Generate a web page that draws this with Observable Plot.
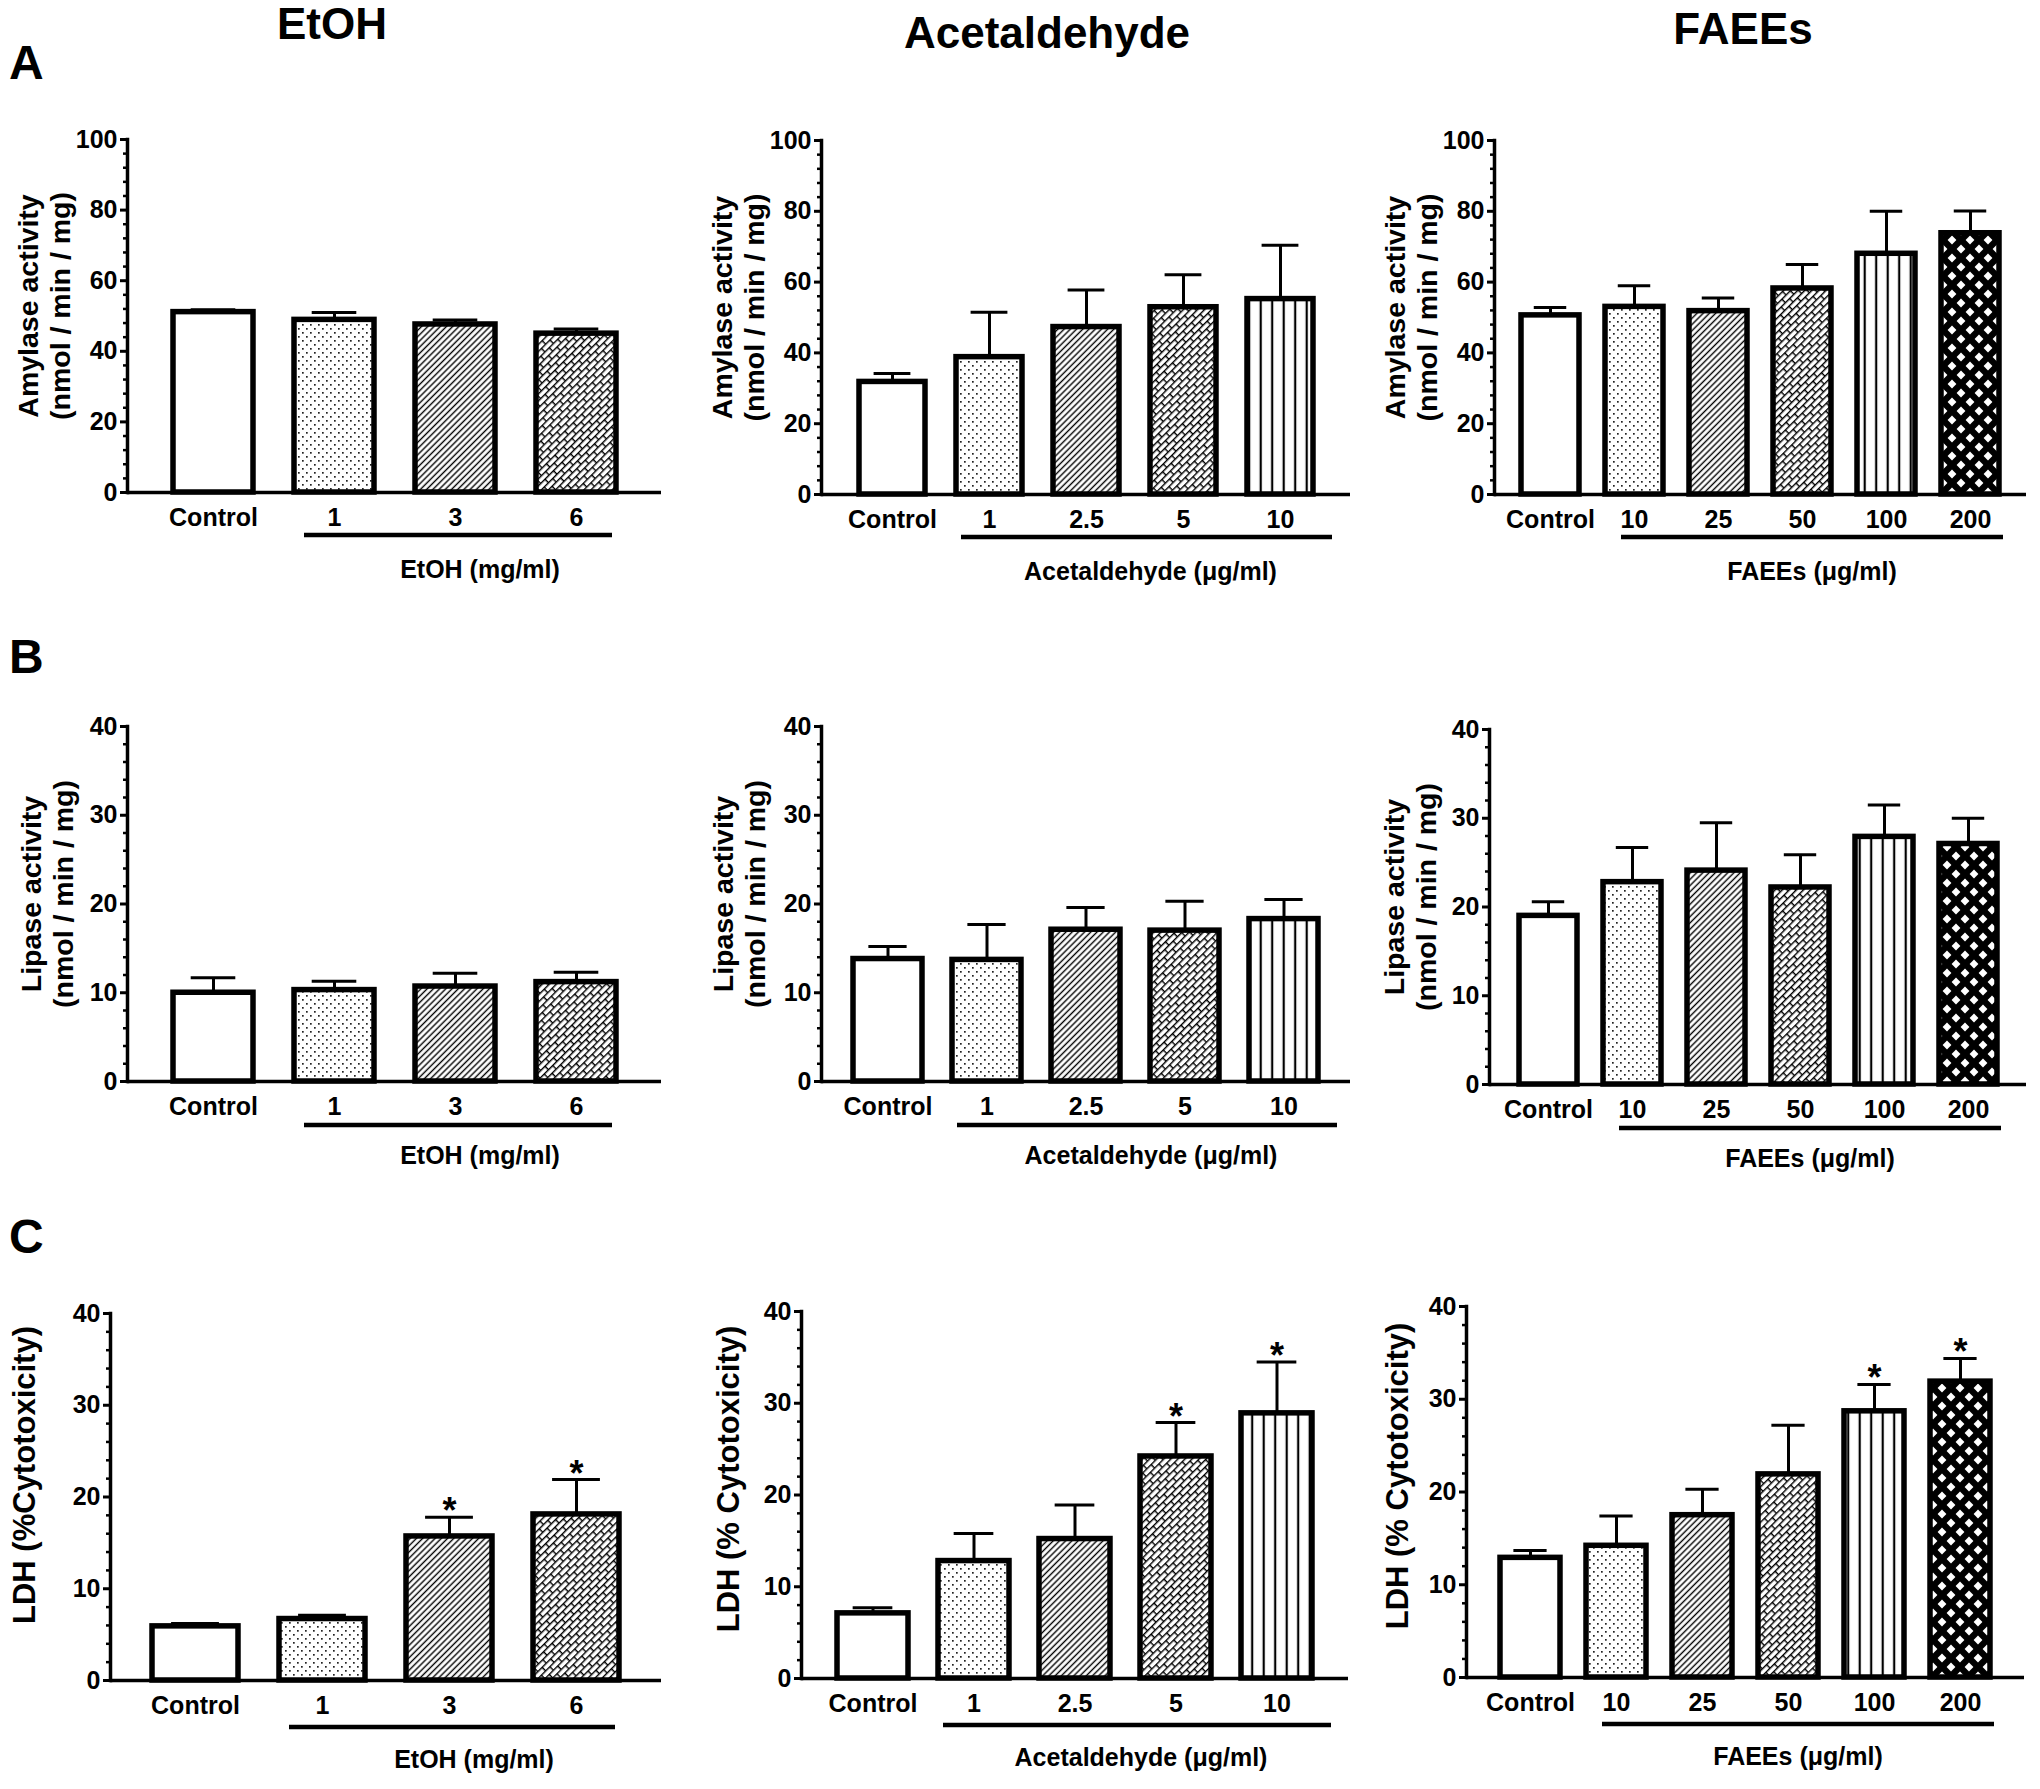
<!DOCTYPE html>
<html>
<head>
<meta charset="utf-8">
<script src="https://cdn.jsdelivr.net/npm/d3@7"></script>
<script src="https://cdn.jsdelivr.net/npm/@observablehq/plot@0.6"></script>
<style>
  html, body { margin:0; padding:0; background:#fff; }
  #page { position:relative; width:2040px; height:1789px; overflow:hidden; background:#fff;
          font-family:"Liberation Sans", Arial, Helvetica, sans-serif; font-weight:bold; color:#000; }
  .t { position:absolute; transform:translate(-50%,-50%); line-height:1; white-space:nowrap; font-size:44px; }
  .letter { position:absolute; transform:translate(0,-50%); line-height:1; font-size:48px; }
  .panel { position:absolute; }
</style>
</head>
<body>
<svg width="0" height="0" style="position:absolute" aria-hidden="true">
  <defs>
    <pattern id="pDots" patternUnits="userSpaceOnUse" width="8" height="8">
      <rect width="8" height="8" fill="#fff"/>
      <rect x="1" y="1" width="1.7" height="1.7" fill="#222"/>
      <rect x="5" y="5" width="1.7" height="1.7" fill="#222"/>
    </pattern>
    <pattern id="pHatch" patternUnits="userSpaceOnUse" width="4.4" height="4.4" patternTransform="rotate(45)">
      <rect width="4.4" height="4.4" fill="#fff"/>
      <rect x="1.5" y="0" width="1.4" height="4.4" fill="#000"/>
    </pattern>
    <pattern id="pBrick" patternUnits="userSpaceOnUse" width="10" height="12" patternTransform="rotate(45)">
      <rect width="10" height="12" fill="#fff"/>
      <rect x="0" y="0" width="1.4" height="12" fill="#000"/>
      <rect x="5" y="0" width="1.4" height="12" fill="#000"/>
      <rect x="0" y="0" width="5" height="1.4" fill="#000"/>
      <rect x="5" y="6" width="5" height="1.4" fill="#000"/>
    </pattern>
    <pattern id="pVert" patternUnits="userSpaceOnUse" width="11.5" height="12">
      <rect width="11.5" height="12" fill="#fff"/>
      <rect x="4.6" y="0" width="2.2" height="12" fill="#000"/>
    </pattern>
    <pattern id="pDiam" patternUnits="userSpaceOnUse" width="18" height="18">
      <rect width="18" height="18" fill="#000"/>
      <g fill="#fff">
        <polygon points="9,4.6 13.4,9 9,13.4 4.6,9"/>
        <polygon points="0,-4.4 4.4,0 0,4.4 -4.4,0"/>
        <polygon points="18,-4.4 22.4,0 18,4.4 13.6,0"/>
        <polygon points="0,13.6 4.4,18 0,22.4 -4.4,18"/>
        <polygon points="18,13.6 22.4,18 18,22.4 13.6,18"/>
      </g>
    </pattern>
  </defs>
</svg>
<div id="page">
  <div class="t" style="left:332px;top:24px;">EtOH</div>
  <div class="t" style="left:1047px;top:33px;">Acetaldehyde</div>
  <div class="t" style="left:1743px;top:29px;">FAEEs</div>
  <div class="letter" style="left:9px;top:63px;">A</div>
  <div class="letter" style="left:9px;top:657px;">B</div>
  <div class="letter" style="left:9px;top:1237px;">C</div>
</div>
<script>
// ---------- categories / tick labels ----------
const etohCats = ["Control", "1", "3", "6"];
const acetCats = ["Control", "1", "2.5", "5", "10"];
const faeeCats = ["Control", "10", "25", "50", "100", "200"];
const amylaseTicks = [0, 20, 40, 60, 80, 100];
const pctTicks = [0, 10, 20, 30, 40];

// ---------- A: amylase activity (mean, mean+SEM) ----------
const amylaseEtoh    = [51.1, 48.9, 47.6, 45.0];
const amylaseEtohErr = [51.8, 51.0, 48.9, 46.3];
const amylaseAcet    = [31.8, 38.8, 47.3, 52.9, 55.2];
const amylaseAcetErr = [34.2, 51.5, 57.8, 62.1, 70.4];
const amylaseFaee    = [50.6, 53.0, 51.8, 58.2, 68.0, 73.8];
const amylaseFaeeErr = [52.8, 59.0, 55.5, 65.0, 80.0, 80.1];

// ---------- B: lipase activity ----------
const lipaseEtoh    = [10.0, 10.3, 10.7, 11.2];
const lipaseEtohErr = [11.7, 11.3, 12.2, 12.3];
const lipaseAcet    = [13.8, 13.7, 17.1, 17.0, 18.3];
const lipaseAcetErr = [15.2, 17.7, 19.6, 20.3, 20.5];
const lipaseFaee    = [19.0, 22.8, 24.1, 22.2, 27.9, 27.1];
const lipaseFaeeErr = [20.6, 26.7, 29.5, 25.9, 31.5, 30.0];

// ---------- C: LDH (% cytotoxicity) ----------
const ldhEtoh    = [5.9, 6.7, 15.7, 18.1];
const ldhEtohErr = [6.2, 7.1, 17.8, 21.9];
const ldhAcet    = [7.1, 12.8, 15.2, 24.2, 28.9];
const ldhAcetErr = [7.7, 15.8, 18.9, 27.9, 34.5];
const ldhFaee    = [12.9, 14.2, 17.5, 21.9, 28.7, 31.9];
const ldhFaeeErr = [13.7, 17.4, 20.3, 27.2, 31.6, 34.4];
const ldhEtohSig = [0, 0, 1, 1];
const ldhAcetSig = [0, 0, 0, 1, 1];
const ldhFaeeSig = [0, 0, 0, 0, 1, 1];

// ---------- styling (bar fills by position) ----------
const FILLS = ["#ffffff", "url(#pDots)", "url(#pHatch)", "url(#pBrick)", "url(#pVert)", "url(#pDiam)"];
const FONT = "'Liberation Sans', Arial, Helvetica, sans-serif";

// per-column label / underline settings
const colStyle = {
  etoh: {group: "EtOH (mg/ml)", ulStart: 10, ulEnd: -4, glShift: 22},
  acet: {group: "Acetaldehyde (\u03bcg/ml)", ulStart: 5, ulEnd: 19, glShift: 4},
  faee: {group: "FAEEs (\u03bcg/ml)", ulStart: 16, ulEnd: 4, glShift: 0}
};
const amyLab = "Amylase activity\n(nmol / min / mg)";
const lipLab = "Lipase activity\n(nmol / min / mg)";

const panels = [
  // row A
  {col: "etoh", cats: etohCats, vals: amylaseEtoh, errs: amylaseEtohErr, yMax: 100, major: amylaseTicks, minorStep: 4,
   x0: 127, x1: 661, yTop: 139, yBase: 492, pi: .34, po: .36, ylab: amyLab, labDx: -84, labDy: -10, labFs: 28.5, ulDy: 43, glDy: 77},
  {col: "acet", cats: acetCats, vals: amylaseAcet, errs: amylaseAcetErr, yMax: 100, major: amylaseTicks, minorStep: 4,
   x0: 821, x1: 1350, yTop: 140, yBase: 494, pi: .32, po: .37, ylab: amyLab, labDx: -84, labDy: -10, labFs: 28.5, ulDy: 43, glDy: 77},
  {col: "faee", cats: faeeCats, vals: amylaseFaee, errs: amylaseFaeeErr, yMax: 100, major: amylaseTicks, minorStep: 4,
   x0: 1494, x1: 2026, yTop: 140, yBase: 494, pi: .31, po: .32, ylab: amyLab, labDx: -84, labDy: -10, labFs: 28.5, ulDy: 43, glDy: 77},
  // row B
  {col: "etoh", cats: etohCats, vals: lipaseEtoh, errs: lipaseEtohErr, yMax: 40, major: pctTicks, minorStep: 2,
   x0: 127, x1: 661, yTop: 726, yBase: 1081, pi: .34, po: .36, ylab: lipLab, labDx: -81, labDy: -10, labFs: 28.5, ulDy: 44, glDy: 74},
  {col: "acet", cats: acetCats, vals: lipaseAcet, errs: lipaseAcetErr, yMax: 40, major: pctTicks, minorStep: 2,
   x0: 821, x1: 1350, yTop: 726, yBase: 1081, pi: .30, po: .30, ylab: lipLab, labDx: -83, labDy: -10, labFs: 28.5, ulDy: 44, glDy: 74},
  {col: "faee", cats: faeeCats, vals: lipaseFaee, errs: lipaseFaeeErr, yMax: 40, major: pctTicks, minorStep: 2,
   x0: 1489, x1: 2026, yTop: 729, yBase: 1084, pi: .31, po: .34, ylab: lipLab, labDx: -80, labDy: -10, labFs: 28.5, ulDy: 44, glDy: 74},
  // row C
  {col: "etoh", cats: etohCats, vals: ldhEtoh, errs: ldhEtohErr, sig: ldhEtohSig, yMax: 40, major: pctTicks, minorStep: 2,
   x0: 110, x1: 661, yTop: 1313, yBase: 1680, pi: .32, po: .32, ylab: "LDH (%Cytotoxicity)", labDx: -87, labDy: -22, labFs: 31, ulDy: 47, glDy: 79},
  {col: "acet", cats: acetCats, vals: ldhAcet, errs: ldhAcetErr, sig: ldhAcetSig, yMax: 40, major: pctTicks, minorStep: 2,
   x0: 801, x1: 1348, yTop: 1311, yBase: 1678, pi: .30, po: .34, ylab: "LDH (% Cytotoxicity)", labDx: -74, labDy: -16, labFs: 31, ulDy: 47, glDy: 79},
  {col: "faee", cats: faeeCats, vals: ldhFaee, errs: ldhFaeeErr, sig: ldhFaeeSig, yMax: 40, major: pctTicks, minorStep: 2,
   x0: 1466, x1: 2024, yTop: 1306, yBase: 1677, pi: .30, po: .36, ylab: "LDH (% Cytotoxicity)", labDx: -70, labDy: -16, labFs: 31, ulDy: 47, glDy: 79}
];

const page = document.getElementById("page");

function makePanel(p) {
  const cs = colStyle[p.col];
  const n = p.cats.length;
  const w = p.x1 - p.x0, h = p.yBase - p.yTop;
  const mL = 118, mR = 14, mT = 44, mB = 100;
  const step = w / (n - p.pi + 2 * p.po);
  const bw = step * (1 - p.pi);
  const rows = p.cats.map((c, i) => ({cat: c, v: p.vals[i], e: p.errs[i], fill: FILLS[i], sig: p.sig ? p.sig[i] : 0}));
  const minor = d3.range(0, p.yMax + 0.001, p.minorStep).filter(t => !p.major.includes(t));
  const plot = Plot.plot({
    width: mL + w + mR,
    height: mT + h + mB,
    marginLeft: mL, marginRight: mR, marginTop: mT, marginBottom: mB,
    x: {type: "band", domain: p.cats, paddingInner: p.pi, paddingOuter: p.po, axis: null},
    y: {domain: [0, p.yMax], axis: null},
    color: {type: "identity"},
    style: {fontFamily: FONT, fontWeight: "bold", fontSize: "25px", color: "#000", background: "transparent", overflow: "visible"},
    marks: [
      Plot.barY(rows, {x: "cat", y: "v", fill: "fill", stroke: "#000", strokeWidth: 5.5}),
      Plot.ruleX(rows, {x: "cat", y1: "v", y2: "e", stroke: "#000", strokeWidth: 3}),
      Plot.tickY(rows, {x: "cat", y: "e", stroke: "#000", strokeWidth: 3, inset: bw * 0.22}),
      Plot.text(rows.filter(d => d.sig), {x: "cat", y: "e", text: () => "*", fontSize: 36, fontWeight: "bold", lineAnchor: "bottom", dy: 6}),
      Plot.ruleY([0], {stroke: "#000", strokeWidth: 3.5}),
      Plot.frame({anchor: "left", stroke: "#000", strokeWidth: 3.5}),
      Plot.axisY({ticks: p.major, tickSize: 7, tickPadding: 3, strokeWidth: 3, fontSize: 25, fontWeight: "bold", label: null}),
      Plot.axisY({ticks: minor, tickSize: 4, tickFormat: () => "", strokeWidth: 2.5, label: null}),
      Plot.axisX({tickSize: 0, tickPadding: 16, fontSize: 25, fontWeight: "bold", label: null}),
      Plot.text([p.ylab], {frameAnchor: "left", text: d => d, rotate: -90, dx: p.labDx, dy: p.labDy,
                           textAnchor: "middle", lineAnchor: "middle",
                           fontSize: p.labFs, fontWeight: "bold", lineHeight: 1.12})
    ]
  });
  // dose underline + group label, positioned via the plot's x scale
  const xs = plot.scale("x");
  const b = xs.bandwidth;
  const u0 = xs.apply(p.cats[1]) + cs.ulStart;
  const u1 = xs.apply(p.cats[n - 1]) + b + cs.ulEnd;
  const base = mT + h;
  const svg = d3.select(plot);
  svg.append("line").attr("x1", u0).attr("x2", u1).attr("y1", base + p.ulDy).attr("y2", base + p.ulDy)
     .attr("stroke", "#000").attr("stroke-width", 4.5);
  svg.append("text").attr("x", (u0 + u1) / 2 + cs.glShift).attr("y", base + p.glDy).attr("dy", "0.35em")
     .attr("text-anchor", "middle").attr("font-size", 25).attr("font-weight", "bold").attr("fill", "#000")
     .text(cs.group);

  const holder = document.createElement("div");
  holder.className = "panel";
  holder.style.left = (p.x0 - mL) + "px";
  holder.style.top = (p.yTop - mT) + "px";
  holder.style.width = (mL + w + mR) + "px";
  holder.appendChild(plot);
  page.appendChild(holder);
}

panels.forEach(makePanel);
</script>
</body>
</html>
